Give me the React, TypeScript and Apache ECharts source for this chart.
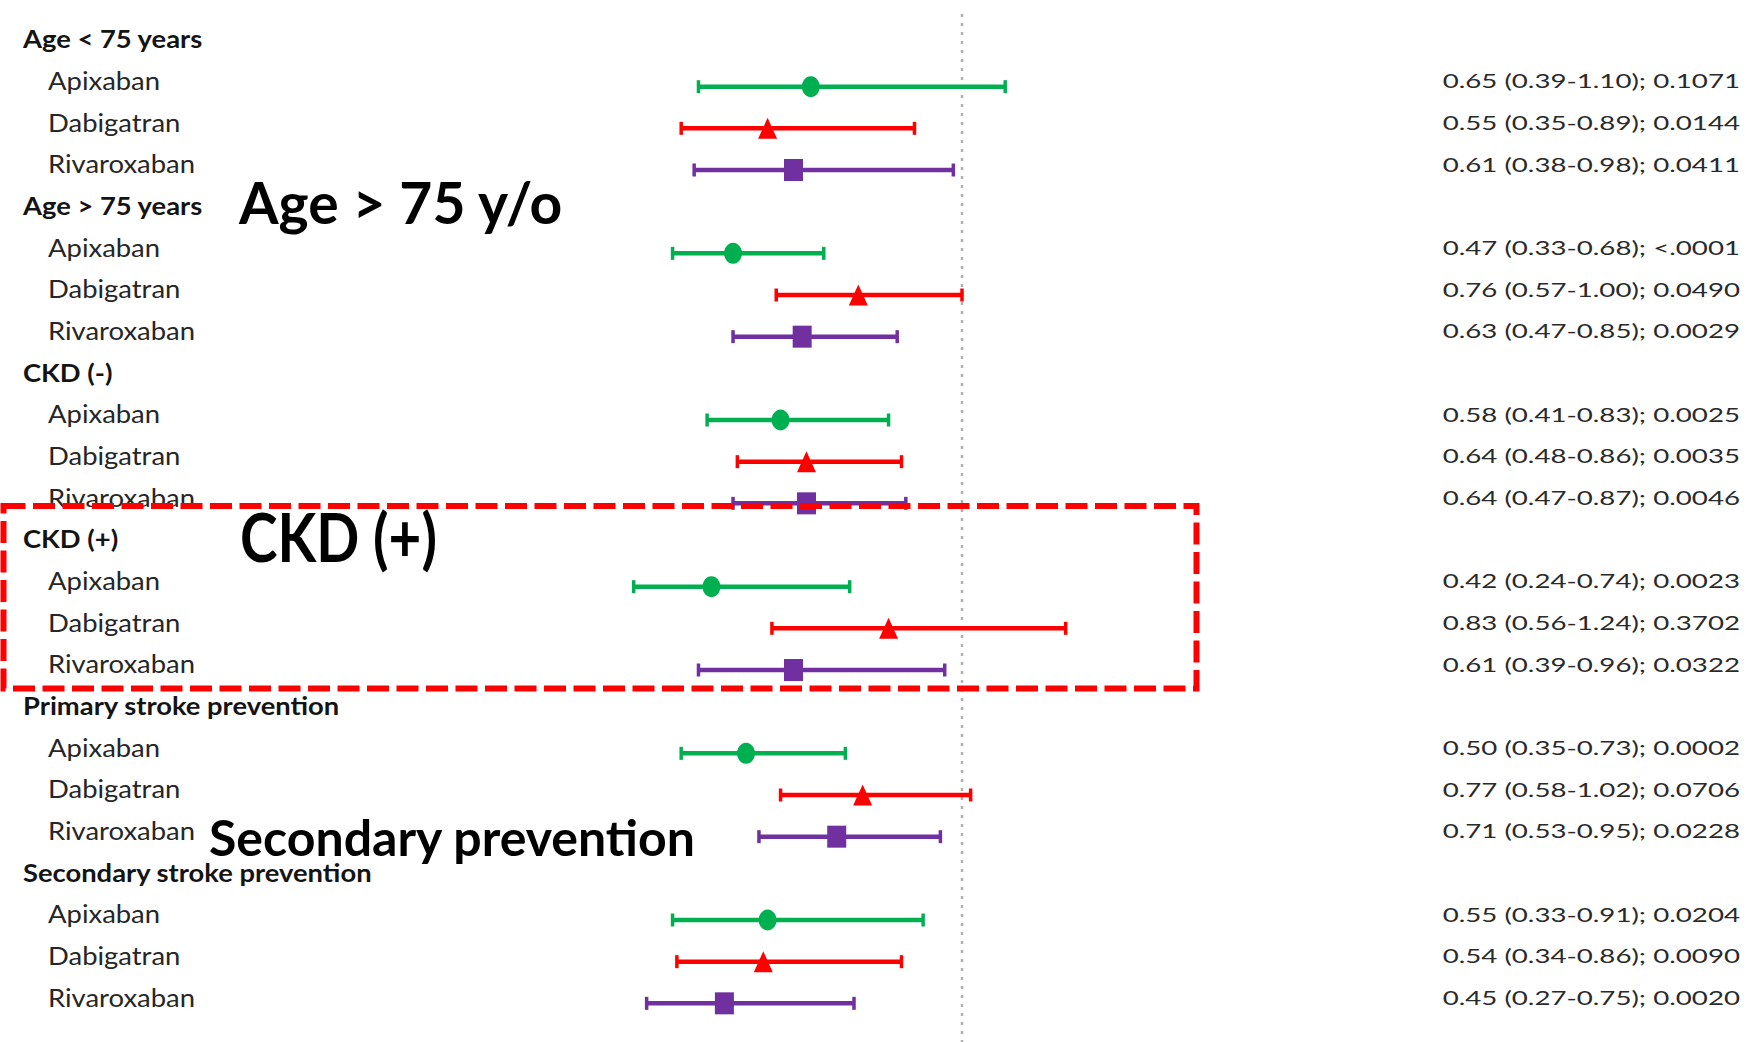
import React, { useEffect, useRef } from 'react';
import * as echarts from 'echarts';

// Subgroups and drugs, in display order (top to bottom)
const groups = [
  'Age < 75 years',
  'Age > 75 years',
  'CKD (-)',
  'CKD (+)',
  'Primary stroke prevention',
  'Secondary stroke prevention',
];
const drugs = ['Apixaban', 'Dabigatran', 'Rivaroxaban'];

// Hazard ratios, 95% CI bounds and p-values per subgroup
const apixHR = [0.65, 0.47, 0.58, 0.42, 0.5, 0.55];
const apixLo = [0.39, 0.33, 0.41, 0.24, 0.35, 0.33];
const apixHi = [1.1, 0.68, 0.83, 0.74, 0.73, 0.91];
const apixP = ['0.1071', '<.0001', '0.0025', '0.0023', '0.0002', '0.0204'];

const dabiHR = [0.55, 0.76, 0.64, 0.83, 0.77, 0.54];
const dabiLo = [0.35, 0.57, 0.48, 0.56, 0.58, 0.34];
const dabiHi = [0.89, 1.0, 0.86, 1.24, 1.02, 0.86];
const dabiP = ['0.0144', '0.0490', '0.0035', '0.3702', '0.0706', '0.0090'];

const rivaHR = [0.61, 0.63, 0.64, 0.61, 0.71, 0.45];
const rivaLo = [0.38, 0.47, 0.47, 0.39, 0.53, 0.27];
const rivaHi = [0.98, 0.85, 0.87, 0.96, 0.95, 0.75];
const rivaP = ['0.0411', '0.0029', '0.0046', '0.0322', '0.0228', '0.0020'];

const referenceHR = 1;

const callouts = ['Age > 75 y/o', 'CKD (+)', 'Secondary prevention'];

const drugColors = ['#00b050', '#ff0000', '#7030a0'];
const drugSymbols = ['circle', 'triangle', 'rect'];
const drugSymbolSizes = [[18, 21], [19, 21], [19, 22]];

const FONT = 'Lato, "Open Sans", sans-serif';

type Row = { label: string; header: boolean; value: string };

function fmt(v: number) {
  return v.toFixed(2);
}

function buildRows(): Row[] {
  const hr = [apixHR, dabiHR, rivaHR];
  const lo = [apixLo, dabiLo, rivaLo];
  const hi = [apixHi, dabiHi, rivaHi];
  const pv = [apixP, dabiP, rivaP];
  const rows: Row[] = [];
  groups.forEach((g, gi) => {
    rows.push({ label: g, header: true, value: '' });
    drugs.forEach((d, di) => {
      rows.push({
        label: d,
        header: false,
        value: `${fmt(hr[di][gi])} (${fmt(lo[di][gi])}-${fmt(hi[di][gi])}); ${pv[di][gi]}`,
      });
    });
  });
  return rows;
}

function rowIndex(gi: number, di: number) {
  return gi * (drugs.length + 1) + 1 + di;
}

export default function App() {
  const ref = useRef<HTMLDivElement>(null);

  useEffect(() => {
    if (!ref.current) return;
    const chart = echarts.init(ref.current, undefined, { renderer: 'svg' });
    const rows = buildRows();
    const nRows = rows.length;

    const hrs = [apixHR, dabiHR, rivaHR];
    const los = [apixLo, dabiLo, rivaLo];
    const his = [apixHi, dabiHi, rivaHi];

    const series: any[] = [];

    // Null line at HR = 1
    series.push({
      type: 'custom',
      silent: true,
      clip: false,
      data: [[referenceHR, 0]],
      z: 1,
      renderItem: (params: any, api: any) => {
        const x = api.coord([api.value(0), 0])[0];
        return {
          type: 'line',
          shape: { x1: x, y1: 14, x2: x, y2: 1042 },
          style: { stroke: '#b0b0b0', lineWidth: 2.5, lineDash: [3, 6] },
        };
      },
    });

    // Confidence interval whiskers per drug
    drugs.forEach((d, di) => {
      series.push({
        type: 'custom',
        name: d + ' CI',
        silent: true,
        z: 2,
        data: groups.map((_, gi) => [los[di][gi], his[di][gi], rowIndex(gi, di)]),
        encode: { x: [0, 1], y: 2 },
        renderItem: (params: any, api: any) => {
          const y = api.value(2);
          const p1 = api.coord([api.value(0), y]);
          const p2 = api.coord([api.value(1), y]);
          const color = drugColors[di];
          const capH = 6.5;
          return {
            type: 'group',
            children: [
              {
                type: 'line',
                shape: { x1: p1[0], y1: p1[1], x2: p2[0], y2: p2[1] },
                style: { stroke: color, lineWidth: 4.5 },
              },
              {
                type: 'line',
                shape: { x1: p1[0], y1: p1[1] - capH, x2: p1[0], y2: p1[1] + capH },
                style: { stroke: color, lineWidth: 3.5 },
              },
              {
                type: 'line',
                shape: { x1: p2[0], y1: p2[1] - capH, x2: p2[0], y2: p2[1] + capH },
                style: { stroke: color, lineWidth: 3.5 },
              },
            ],
          };
        },
      });
    });

    // Point estimates per drug
    drugs.forEach((d, di) => {
      series.push({
        type: 'scatter',
        name: d,
        z: 3,
        symbol: drugSymbols[di],
        symbolSize: drugSymbolSizes[di],
        itemStyle: { color: drugColors[di], opacity: 1 },
        data: groups.map((_, gi) => [hrs[di][gi], rowIndex(gi, di)]),
      });
    });

    // Row labels (left) and estimate text (right)
    series.push({
      type: 'custom',
      silent: true,
      clip: false,
      z: 4,
      data: rows.map((_, i) => [0, i]),
      renderItem: (params: any, api: any) => {
        const r = rows[params.dataIndex];
        const y = api.coord([0, api.value(1)])[1] - 6;
        const children: any[] = [
          {
            type: 'text',
            x: r.header ? 23 : 48,
            y,
            scaleX: r.header ? 1.14 : 1.12,
            style: {
              text: r.label,
              fill: r.header ? '#141414' : '#262626',
              fontFamily: FONT,
              fontSize: r.header ? 24 : 24.5,
              fontWeight: r.header ? 'bold' : 'normal',
              align: 'left',
              verticalAlign: 'middle',
            },
          },
        ];
        if (r.value) {
          children.push({
            type: 'text',
            x: 1740,
            y,
            scaleX: 1.42,
            style: {
              text: r.value,
              fill: '#2a2a2a',
              fontFamily: FONT,
              fontSize: 19.5,
              align: 'right',
              verticalAlign: 'middle',
            },
          });
        }
        return { type: 'group', children };
      },
    });

    chart.setOption({
      animation: false,
      backgroundColor: '#ffffff',
      grid: { left: 530, top: 24.17, width: 648, height: 1000 },
      xAxis: {
        type: 'value',
        min: 0,
        max: 1.5,
        show: false,
      },
      yAxis: {
        type: 'value',
        min: -0.5,
        max: nRows - 0.5,
        inverse: true,
        show: false,
      },
      series,
      graphic: [
        {
          type: 'rect',
          shape: { x: 3.5, y: 506, width: 1193, height: 182.5 },
          style: { fill: 'none', stroke: '#ff0000', lineWidth: 6, lineDash: [22, 7.5] },
          z: 10,
        },
        {
          type: 'text',
          x: 239,
          y: 202,
          style: {
            text: callouts[0],
            fill: '#000000',
            fontFamily: FONT,
            fontWeight: 'bold',
            fontSize: 57,
            align: 'left',
            verticalAlign: 'middle',
          },
          z: 11,
        },
        {
          type: 'text',
          x: 240,
          y: 536,
          scaleX: 0.845,
          style: {
            text: callouts[1],
            fill: '#000000',
            fontFamily: FONT,
            fontWeight: 'bold',
            fontSize: 67,
            align: 'left',
            verticalAlign: 'middle',
          },
          z: 11,
        },
        {
          type: 'text',
          x: 209,
          y: 837,
          style: {
            text: callouts[2],
            fill: '#000000',
            fontFamily: FONT,
            fontWeight: 'bold',
            fontSize: 50,
            align: 'left',
            verticalAlign: 'middle',
          },
          z: 11,
        },
      ],
    });

    return () => chart.dispose();
  }, []);

  return (
    <div
      ref={ref}
      style={{ position: 'fixed', left: 0, top: 0, width: 1758, height: 1042, background: '#fff' }}
    />
  );
}
